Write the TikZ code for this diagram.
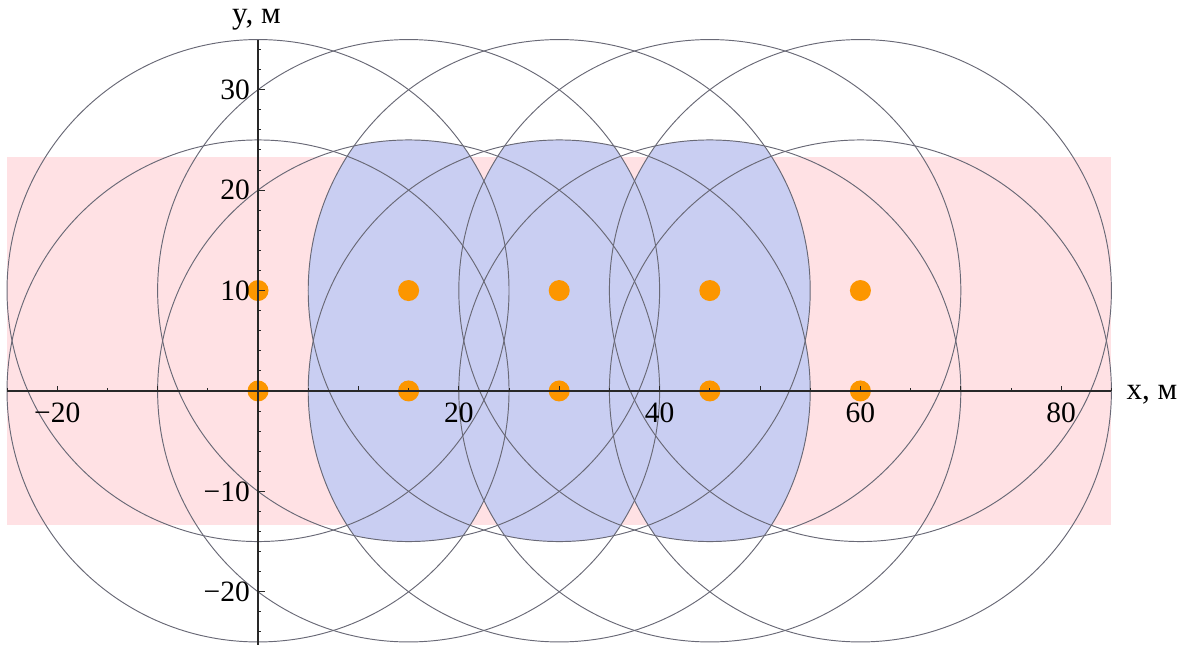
\documentclass[tikz,border=0pt]{standalone}
\usepackage{fontspec}
\setmainfont{Liberation Serif}
\definecolor{pinkbg}{RGB}{255,225,228}
\definecolor{bluereg}{RGB}{201,206,242}
\definecolor{circgray}{RGB}{105,105,118}
\definecolor{dotorange}{RGB}{252,150,0}
\definecolor{axiscol}{RGB}{40,40,40}
\begin{document}
\begin{tikzpicture}[x=10.04pt,y=10.04pt,
  ring/.style={draw=circgray, line width=0.95pt},
  dot/.style={circle, fill=dotorange, minimum size=21pt, inner sep=0pt},
  axisline/.style={draw=axiscol, line width=1.3pt},
  tickmark/.style={draw=axiscol, line width=1pt},
  ticklab/.style={font=\fontsize{29.5}{31}\selectfont, inner sep=0pt, text=black},
  axlab/.style={font=\fontsize{31}{33}\selectfont, inner sep=0pt, text=black}]
\useasboundingbox (-25.70,-25.30) rectangle (92.33,38.94);
% pink band
\fill[pinkbg] (-25,-13.33) rectangle (85,23.33);
% blue regions
\foreach \c in {15,30,45}{
  \begin{scope}
    \clip (\c,0) circle[radius=25];
    \clip (\c,10) circle[radius=25];
    \clip (\c-15,0) circle[radius=25] (\c-15,10) circle[radius=25];
    \clip (\c+15,0) circle[radius=25] (\c+15,10) circle[radius=25];
    \fill[bluereg] (-30,-30) rectangle (90,40);
  \end{scope}
}
% circles
\foreach \cx in {0,15,30,45,60}{
  \foreach \cy in {0,10}{
    \draw[ring] (\cx,\cy) circle[radius=25];
  }
}
% points
\foreach \cx in {0,15,30,45,60}{
  \foreach \cy in {0,10}{
    \node[dot] (p\cx-\cy) at (\cx,\cy) {};
  }
}
% axes
\coordinate (xl) at (-25,0);
\coordinate (xr) at (85,0);
\coordinate (yb) at (0,-25.3);
\coordinate (yt) at (0,35);
\draw[axisline] (xl) -- (xr);
\draw[axisline] (yb) -- (yt);
% x ticks
\foreach \t in {-25,-15,...,85}{
  \draw[tickmark] (\t,0) -- ++(0,0.25);
}
\foreach \t in {-20,-10,...,80}{
  \draw[tickmark] (\t,0) -- ++(0,0.5);
}
% y ticks
\foreach \t in {-24,-22,...,34}{
  \draw[tickmark] (0,\t) -- ++(0.3,0);
}
\foreach \t in {-20,-10,...,30}{
  \draw[tickmark] (0,\t) -- ++(0.65,0);
}
% x tick labels
\node[ticklab, anchor=north] (lxm20) at (-20,-1.2) {−20};
\node[ticklab, anchor=north] (lx20) at (20,-1.2) {20};
\node[ticklab, anchor=north] (lx40) at (40,-1.2) {40};
\node[ticklab, anchor=north] (lx60) at (60,-1.2) {60};
\node[ticklab, anchor=north] (lx80) at (80,-1.2) {80};
% y tick labels
\node[ticklab, anchor=east] (lym20) at (-0.8,-20) {−20};
\node[ticklab, anchor=east] (lym10) at (-0.8,-10) {−10};
\node[ticklab, anchor=east] (ly10) at (-0.8,10) {10};
\node[ticklab, anchor=east] (ly20) at (-0.8,20) {20};
\node[ticklab, anchor=east] (ly30) at (-0.8,30) {30};
% axis labels
\node[axlab, anchor=base west] (xlab) at (86.5,-0.9) {x, м};
\node[axlab, anchor=base west] (ylab) at (-2.6,36.6) {y, м};
\end{tikzpicture}
\end{document}
